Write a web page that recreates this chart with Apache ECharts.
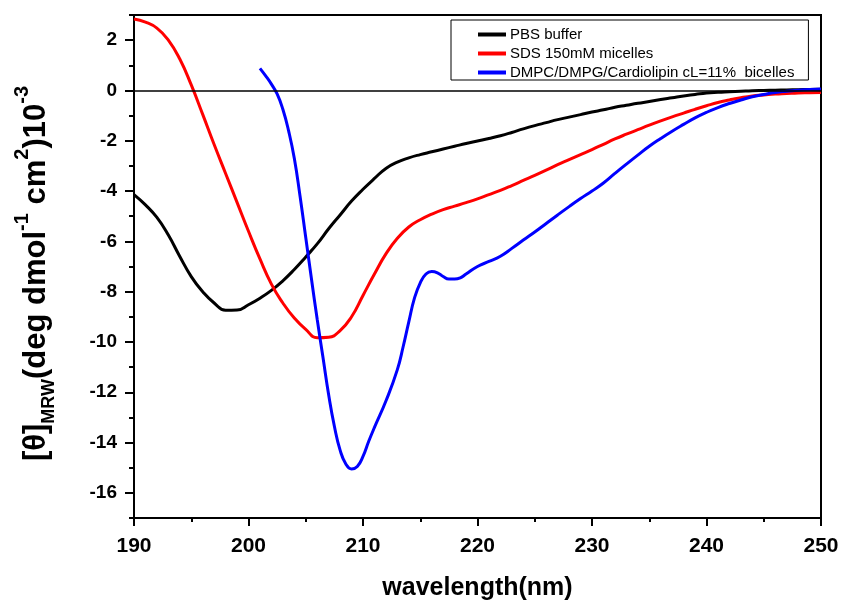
<!DOCTYPE html>
<html>
<head>
<meta charset="utf-8">
<script src="https://cdn.jsdelivr.net/npm/echarts@6/dist/echarts.min.js"></script>
<style>
  html, body { margin: 0; padding: 0; background: #fff; }
  #chart { width: 841px; height: 603px; }
</style>
</head>
<body>
<div id="chart"></div>
<script>
// CD spectra: mean residue ellipticity vs wavelength
const wavelength = [190,191,192,193,194,195,196,197,198,199,200,201,202,203,204,205,206,207,208,209,210,
  211,212,213,214,215,216,217,218,219,220,221,222,223,224,225,226,227,228,229,230,
  231,232,233,234,235,236,237,238,239,240,241,242,243,244,245,246,247,248,249,250];

const pbsTheta = [-4.14,-4.55,-5.05,-5.75,-6.6,-7.4,-8.0,-8.45,-8.74,-8.73,-8.52,-8.26,-7.95,-7.57,-7.12,-6.62,-6.1,-5.5,-4.95,-4.4,-3.93,
  -3.5,-3.1,-2.85,-2.68,-2.55,-2.44,-2.33,-2.22,-2.11,-2.01,-1.91,-1.8,-1.67,-1.53,-1.4,-1.28,-1.16,-1.06,-0.96,-0.86,
  -0.77,-0.67,-0.59,-0.51,-0.44,-0.36,-0.29,-0.22,-0.16,-0.10,-0.07,-0.05,-0.03,-0.01,0.0,0.01,0.02,0.03,0.04,0.05];

const sdsTheta = [2.84,2.72,2.48,2.0,1.25,0.22,-0.95,-2.15,-3.3,-4.45,-5.6,-6.7,-7.7,-8.45,-9.05,-9.5,-9.83,-9.81,-9.55,-9.0,-8.15,
  -7.3,-6.5,-5.88,-5.43,-5.14,-4.92,-4.74,-4.6,-4.46,-4.31,-4.14,-3.97,-3.78,-3.58,-3.38,-3.17,-2.95,-2.75,-2.55,-2.35,
  -2.14,-1.93,-1.74,-1.56,-1.38,-1.21,-1.05,-0.9,-0.75,-0.61,-0.48,-0.38,-0.29,-0.22,-0.18,-0.14,-0.12,-0.1,-0.09,-0.08];

const bicelleWavelength = [201,201.5,202,202.5,203,203.5,204,204.5,205,205.5,206,206.5,207,207.5,208,208.5,209,209.5,210,210.5,
  211,212,213,213.5,214,214.5,215,215.5,216,216.5,217,217.5,218,218.5,219,220,221,222,223,224,225,
  226,227,228,229,230,231,232,233,234,235,236,237,238,239,240,241,242,243,244,245,246,247,248,249,250];

const bicelleTheta = [0.88,0.58,0.25,-0.14,-0.75,-1.6,-2.7,-4.2,-5.85,-7.5,-9.1,-10.6,-12.1,-13.35,-14.3,-14.85,-15.05,-14.95,-14.55,-13.95,
  -13.4,-12.35,-11.1,-10.2,-9.2,-8.25,-7.65,-7.3,-7.2,-7.25,-7.4,-7.5,-7.5,-7.45,-7.3,-7.0,-6.8,-6.59,-6.28,-5.95,-5.63,
  -5.29,-4.95,-4.62,-4.3,-4.0,-3.68,-3.3,-2.93,-2.57,-2.22,-1.91,-1.62,-1.35,-1.09,-0.87,-0.68,-0.52,-0.38,-0.25,-0.16,-0.08,-0.03,0.01,0.04,0.06];

const seriesNames = ['PBS buffer', 'SDS 150mM micelles', 'DMPC/DMPG/Cardiolipin cL=11%  bicelles'];
const seriesColors = ['#000000', '#ff0000', '#0000ff'];

const yMajorTicks = [-16,-14,-12,-10,-8,-6,-4,-2,0,2];
const yMinorTicks = [-17,-15,-13,-11,-9,-7,-5,-3,-1,1,3];

const FONT = "'Liberation Sans', Arial, sans-serif";

function pairs(xs, ys) { return xs.map((x, i) => [x, ys[i]]); }

const chart = echarts.init(document.getElementById('chart'), null, { renderer: 'canvas' });

chart.setOption({
  animation: false,
  backgroundColor: '#fff',
  grid: {
    left: 134, right: 20, top: 15, bottom: 85, outerBoundsMode: 'none', containLabel: false,
    show: true, borderColor: '#000', borderWidth: 2
  },
  legend: {
    orient: 'vertical', left: 451, top: 20,
    padding: [7, 14, 0, 27], itemGap: 4,
    itemWidth: 28, itemHeight: 4, icon: 'rect',
    borderColor: '#000', borderWidth: 1, backgroundColor: '#fff',
    textStyle: { fontFamily: FONT, fontSize: 15, color: '#000', padding: [0, 0, 0, -1] },
    data: seriesNames
  },
  xAxis: {
    type: 'value', min: 190, max: 250, interval: 10,
    name: 'wavelength(nm)', nameLocation: 'middle', nameGap: 58,
    nameTextStyle: { fontFamily: FONT, fontSize: 25, fontWeight: 'bold', color: '#000' },
    axisLine: { onZero: false, lineStyle: { color: '#000', width: 2 } },
    axisTick: { length: 8, lineStyle: { color: '#000', width: 2 } },
    minorTick: { show: true, splitNumber: 2, length: 4, lineStyle: { color: '#000', width: 2 } },
    axisLabel: { fontFamily: FONT, fontSize: 21, fontWeight: 'bold', color: '#000', margin: 18 },
    splitLine: { show: false }, minorSplitLine: { show: false }
  },
  yAxis: [{
    type: 'value', min: -17, max: 3, position: 'left',
    name: '{b|[θ]}{sub|MRW}{b|(deg dmol}{sup|-1}{b| cm}{sup|2}{b|)10}{sup|-3}',
    nameLocation: 'middle', nameGap: 74, nameRotate: 90,
    nameTextStyle: {
      padding: [0, 14, 0, 0],
      rich: {
        b: { fontFamily: FONT, fontSize: 31, fontWeight: 'bold', color: '#000' },
        sub: { fontFamily: FONT, fontSize: 18, fontWeight: 'bold', color: '#000', padding: [26, 0, 0, 0] },
        sup: { fontFamily: FONT, fontSize: 20, fontWeight: 'bold', color: '#000', padding: [0, 0, 28, 0] }
      }
    },
    axisLine: { show: true, onZero: false, lineStyle: { color: '#000', width: 2 } },
    axisTick: { show: true, length: 9, customValues: yMajorTicks, lineStyle: { color: '#000', width: 2 } },
    axisLabel: { customValues: yMajorTicks, fontFamily: FONT, fontSize: 19, fontWeight: 'bold', color: '#000', margin: 17 },
    splitLine: { show: false }
  }, {
    type: 'value', min: -17, max: 3, position: 'left', offset: 0,
    axisLine: { show: false },
    axisTick: { show: true, length: 5, customValues: yMinorTicks, lineStyle: { color: '#000', width: 2 } },
    axisLabel: { show: false },
    splitLine: { show: false }
  }],
  series: [
    {
      name: seriesNames[0], type: 'line', data: pairs(wavelength, pbsTheta),
      showSymbol: false, smooth: 0.5, color: seriesColors[0], lineStyle: { width: 3 },
      markLine: {
        silent: true, symbol: 'none', label: { show: false },
        lineStyle: { color: '#000', width: 1.5, type: 'solid' },
        data: [{ yAxis: 0 }]
      }
    },
    {
      name: seriesNames[1], type: 'line', data: pairs(wavelength, sdsTheta),
      showSymbol: false, smooth: 0.5, color: seriesColors[1], lineStyle: { width: 3 }
    },
    {
      name: seriesNames[2], type: 'line', data: pairs(bicelleWavelength, bicelleTheta),
      showSymbol: false, smooth: 0.5, color: seriesColors[2], lineStyle: { width: 3 }
    }
  ]
});
</script>
</body>
</html>
